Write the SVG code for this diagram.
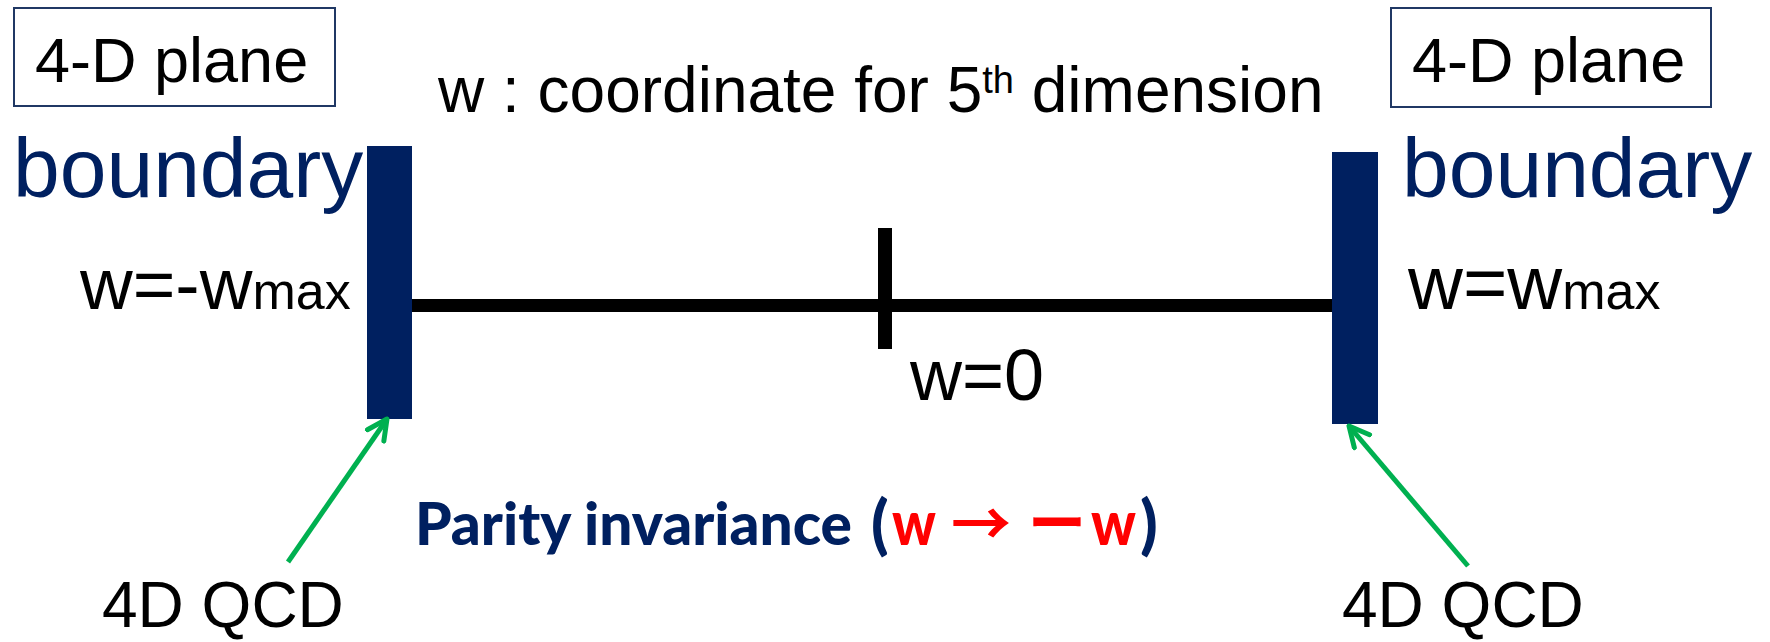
<svg xmlns="http://www.w3.org/2000/svg" width="1770" height="642" viewBox="0 0 1770 642">
<style>
.ar{font-family:"Liberation Sans",Arial,sans-serif;fill:#000}
.bd{font-family:"Liberation Sans",Arial,sans-serif;fill:#002060;font-size:84px}
.box{fill:#fff;stroke:#203864;stroke-width:2}
.bar{fill:#002060}
.axis{fill:#000}
.pb{font-family:Lato,"Open Sans",sans-serif;font-weight:900;fill:#002060}
.pr{font-family:Lato,"Open Sans",sans-serif;font-weight:900;fill:#ff0000}
.cjk{font-family:"Noto Sans CJK JP",sans-serif;font-weight:bold;fill:#ff0000}
.gl{stroke:#00B050;stroke-width:5;fill:none}
</style>
<defs>
<marker id="vh" viewBox="0 0 10 10" refX="9" refY="5" markerWidth="5" markerHeight="5" orient="auto" markerUnits="strokeWidth">
<path d="M1,1 L9,5 L1,9" fill="none" stroke="#00B050" stroke-width="2" stroke-linecap="round" stroke-linejoin="round"/>
</marker>
</defs>
<rect width="1770" height="642" fill="#fff"/>

<g id="plane-left">
<rect class="box" x="14" y="8" width="321" height="98"/>
<text class="ar" x="35" y="82" font-size="63">4-D plane</text>
</g>
<g id="plane-right">
<rect class="box" x="1391" y="8" width="320" height="99"/>
<text class="ar" x="1412" y="82" font-size="63">4-D plane</text>
</g>

<g id="title">
<text class="ar" x="438" y="112" font-size="64">w : coordinate for 5<tspan font-size="38" dy="-19">th</tspan><tspan dy="19"> dimension</tspan></text>
</g>

<g id="boundary-left">
<text class="bd" x="13" y="197">boundary</text>
<rect class="bar" x="367" y="146" width="45" height="273"/>
<text class="ar" x="80" y="309" font-size="73">w=-w<tspan font-size="52">max</tspan></text>
</g>
<g id="boundary-right">
<text class="bd" x="1402" y="197">boundary</text>
<rect class="bar" x="1332" y="152" width="46" height="272"/>
<text class="ar" x="1408" y="309" font-size="76">w=w<tspan font-size="52">max</tspan></text>
</g>

<g id="axis">
<rect class="axis" x="412" y="299" width="920" height="13"/>
<rect class="axis" x="878" y="228" width="14" height="121"/>
<text class="ar" x="910" y="400" font-size="72">w=0</text>
</g>

<g id="parity">
<text class="pb" x="415" y="545" font-size="59" textLength="437" lengthAdjust="spacingAndGlyphs">Parity invariance</text>
<text class="pb" x="871" y="547" font-size="64">(</text>
<text class="pr" x="892" y="545" font-size="60" textLength="44" lengthAdjust="spacingAndGlyphs">w</text>
<text class="cjk" x="951" y="546" font-size="60">→</text>
<text class="cjk" x="1028" y="544" font-size="58">ー</text>
<text class="pr" x="1091" y="545" font-size="60" textLength="45" lengthAdjust="spacingAndGlyphs">w</text>
<text class="pb" x="1140" y="547" font-size="64">)</text>
</g>

<g id="qcd-left">
<text class="ar" x="102" y="627" font-size="64">4D QCD</text>
</g>
<g id="qcd-right">
<text class="ar" x="1342" y="627" font-size="64">4D QCD</text>
</g>

<g id="connectors">
<line class="gl" x1="288" y1="562" x2="387" y2="419" marker-end="url(#vh)"/>
<line class="gl" x1="1468" y1="566" x2="1349" y2="426" marker-end="url(#vh)"/>
</g>
</svg>
